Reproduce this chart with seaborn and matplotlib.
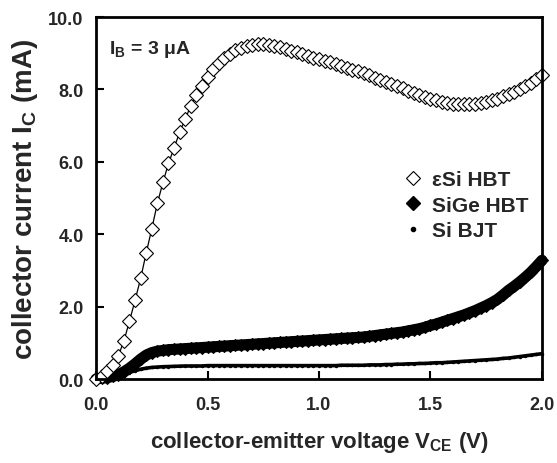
import numpy as np
import pandas as pd
import seaborn as sns
import matplotlib
matplotlib.use('Agg')
import matplotlib.pyplot as plt
from matplotlib.lines import Line2D

# collector-emitter voltage (V), sampled every 25 mV
vce = [0.000, 0.025, 0.050, 0.075, 0.100, 0.125, 0.150, 0.175, 0.200, 0.225,
       0.250, 0.275, 0.300, 0.325, 0.350, 0.375, 0.400, 0.425, 0.450, 0.475,
       0.500, 0.525, 0.550, 0.575, 0.600, 0.625, 0.650, 0.675, 0.700, 0.725,
       0.750, 0.775, 0.800, 0.825, 0.850, 0.875, 0.900, 0.925, 0.950, 0.975,
       1.000, 1.025, 1.050, 1.075, 1.100, 1.125, 1.150, 1.175, 1.200, 1.225,
       1.250, 1.275, 1.300, 1.325, 1.350, 1.375, 1.400, 1.425, 1.450, 1.475,
       1.500, 1.525, 1.550, 1.575, 1.600, 1.625, 1.650, 1.675, 1.700, 1.725,
       1.750, 1.775, 1.800, 1.825, 1.850, 1.875, 1.900, 1.925, 1.950, 1.975,
       2.000]

# collector current (mA)
ic_esi = [0.00, 0.08, 0.22, 0.38, 0.64, 1.05, 1.60, 2.17, 2.78, 3.48,
          4.15, 4.85, 5.43, 5.96, 6.38, 6.82, 7.18, 7.55, 7.84, 8.10,
          8.34, 8.56, 8.72, 8.86, 8.98, 9.08, 9.15, 9.20, 9.23, 9.25,
          9.25, 9.24, 9.21, 9.17, 9.12, 9.07, 9.03, 8.98, 8.93, 8.88,
          8.84, 8.79, 8.75, 8.70, 8.65, 8.60, 8.55, 8.50, 8.45, 8.39,
          8.33, 8.27, 8.21, 8.15, 8.09, 8.03, 7.97, 7.91, 7.85, 7.79,
          7.74, 7.70, 7.66, 7.63, 7.61, 7.60, 7.59, 7.60, 7.61, 7.63,
          7.66, 7.70, 7.75, 7.81, 7.87, 7.94, 8.02, 8.10, 8.19, 8.29,
          8.40]

ic_sige = [0.00, 0.02, 0.04, 0.07, 0.12, 0.20, 0.30, 0.42, 0.55, 0.66,
           0.73, 0.77, 0.79, 0.81, 0.82, 0.83, 0.84, 0.85, 0.86, 0.87,
           0.88, 0.89, 0.90, 0.91, 0.92, 0.93, 0.94, 0.95, 0.96, 0.97,
           0.98, 0.99, 1.00, 1.01, 1.02, 1.03, 1.04, 1.05, 1.06, 1.07,
           1.08, 1.09, 1.10, 1.11, 1.12, 1.13, 1.14, 1.15, 1.16, 1.18,
           1.20, 1.22, 1.24, 1.26, 1.28, 1.30, 1.33, 1.36, 1.39, 1.43,
           1.48, 1.52, 1.57, 1.62, 1.67, 1.72, 1.77, 1.83, 1.89, 1.96,
           2.03, 2.11, 2.20, 2.32, 2.45, 2.56, 2.68, 2.81, 2.95, 3.11,
           3.28]

ic_si = [0.00, 0.01, 0.02, 0.04, 0.08, 0.13, 0.18, 0.23, 0.27, 0.30,
         0.32, 0.33, 0.34, 0.345, 0.35, 0.355, 0.36, 0.36, 0.36, 0.36,
         0.37, 0.37, 0.37, 0.37, 0.37, 0.37, 0.37, 0.37, 0.37, 0.37,
         0.37, 0.37, 0.37, 0.37, 0.37, 0.37, 0.37, 0.37, 0.37, 0.37,
         0.37, 0.37, 0.37, 0.37, 0.38, 0.38, 0.38, 0.38, 0.38, 0.39,
         0.39, 0.39, 0.40, 0.40, 0.41, 0.41, 0.42, 0.42, 0.43, 0.43,
         0.44, 0.45, 0.45, 0.46, 0.47, 0.48, 0.49, 0.50, 0.51, 0.52,
         0.53, 0.54, 0.55, 0.57, 0.58, 0.60, 0.62, 0.64, 0.66, 0.68,
         0.70]

labels = ['\u03b5Si HBT', 'SiGe HBT', 'Si BJT']

df = pd.DataFrame({'vce': vce, 'esi': ic_esi, 'sige': ic_sige, 'si': ic_si})

sns.set_style('ticks')
plt.rcParams['font.family'] = ['Liberation Sans', 'DejaVu Sans']
plt.rcParams['font.weight'] = 'bold'
plt.rcParams['mathtext.fontset'] = 'custom'
plt.rcParams['mathtext.rm'] = 'Liberation Sans:bold'
plt.rcParams['mathtext.it'] = 'Liberation Sans:bold'
plt.rcParams['mathtext.bf'] = 'Liberation Sans:bold'
plt.rcParams['mathtext.default'] = 'rm'

fig = plt.figure(figsize=(5.57, 4.64), dpi=100)
ax = fig.add_axes([0.1724, 0.181, 0.8006, 0.780])

# Si BJT - thin dotted band
sns.lineplot(data=df, x='vce', y='si', ax=ax, color='black', linewidth=2.6,
             marker='o', markersize=2.5, markeredgewidth=0, clip_on=False)
# SiGe HBT - dense filled diamonds forming a thick band
sns.lineplot(data=df, x='vce', y='sige', ax=ax, color='black', linewidth=8,
             marker='D', markersize=6, markerfacecolor='black',
             markeredgecolor='black', clip_on=False)
# eSi HBT - open diamonds joined by a thin line
sns.lineplot(data=df, x='vce', y='esi', ax=ax, color='black', linewidth=0.9,
             marker='D', markersize=7.3, markerfacecolor='white',
             markeredgecolor='black', markeredgewidth=0.8, clip_on=False)

ax.set_xlim(0, 2.0)
ax.set_ylim(0, 10.0)
ax.set_xticks([0.0, 0.5, 1.0, 1.5, 2.0])
ax.set_yticks([0.0, 2.0, 4.0, 6.0, 8.0, 10.0])
ax.set_xticklabels(['%.1f' % v for v in ax.get_xticks()])
ax.set_yticklabels(['%.1f' % v for v in ax.get_yticks()])
ax.tick_params(direction='in', length=6, width=1.5, labelsize=13, color='black')
ax.tick_params(axis='x', pad=12)
ax.tick_params(axis='y', pad=9)
for lab in ax.get_xticklabels() + ax.get_yticklabels():
    lab.set_fontweight('bold')
for sp in ax.spines.values():
    sp.set_linewidth(2)
    sp.set_color('black')

ax.set_xlabel('collector-emitter voltage V$_{CE}$ (V)', fontsize=16,
              fontweight='bold', labelpad=12)
ax.set_ylabel('collector current I$_{C}$ (mA)', fontsize=20,
              fontweight='bold', labelpad=6)

ax.text(0.03, 0.912, 'I$_{B}$ = 3 \u03bcA', transform=ax.transAxes,
        fontsize=14, fontweight='bold', va='center', ha='left')

handles = [
    Line2D([], [], linestyle='none', marker='D', markersize=7,
           markerfacecolor='white', markeredgecolor='black', markeredgewidth=0.8),
    Line2D([], [], linestyle='none', marker='D', markersize=7,
           markerfacecolor='black', markeredgecolor='black'),
    Line2D([], [], linestyle='none', marker='o', markersize=3,
           markerfacecolor='black', markeredgecolor='black'),
]
leg = ax.legend(handles, labels, loc='upper left', bbox_to_anchor=(0.665, 0.605),
                frameon=False, handlelength=1.0, handletextpad=0.4,
                labelspacing=0.3, borderpad=0,
                prop={'family': 'Liberation Sans', 'weight': 'bold', 'size': 15})

fig.savefig('out.png', dpi=100)
